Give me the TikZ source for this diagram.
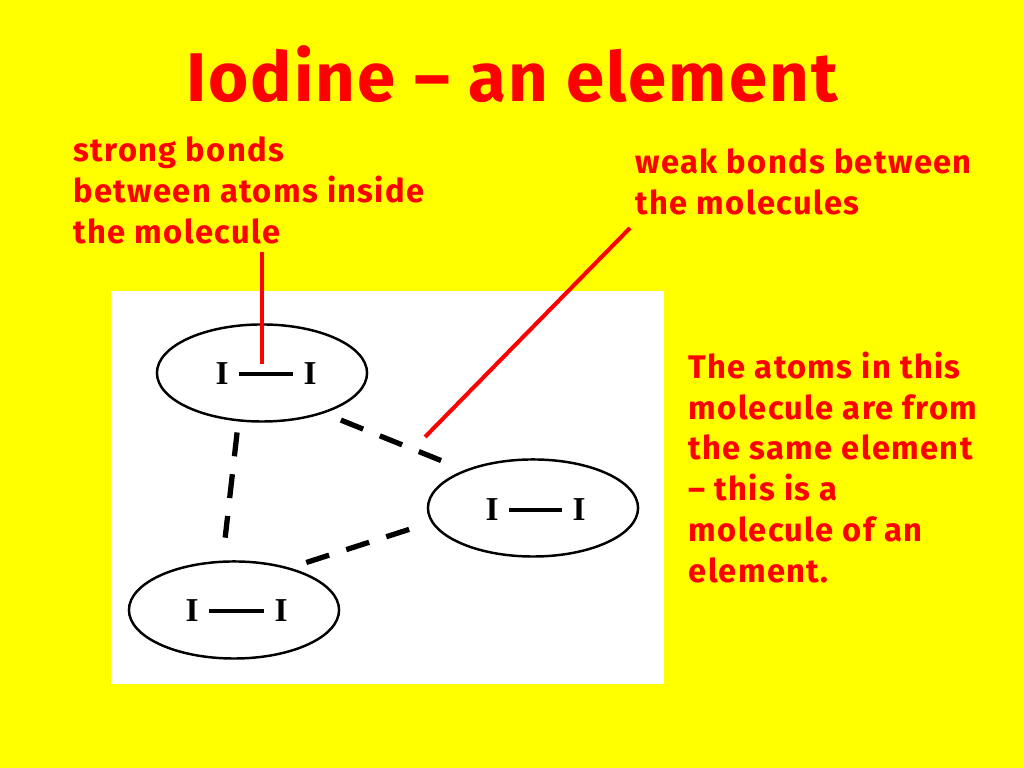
\documentclass[tikz,border=0pt]{standalone}
\usepackage{fontspec}
\setmainfont{Fira Sans}[BoldFont={Fira Sans Bold},LetterSpace=4]
\newfontfamily\titlefont{Fira Sans Bold}[LetterSpace=3]
\newfontfamily\atomfont{Liberation Serif Bold}
\definecolor{slidered}{RGB}{255,0,0}
\definecolor{slideyellow}{RGB}{255,255,0}
\usetikzlibrary{shapes.geometric}
\tikzset{
  molecule/.style={draw,ellipse,line width=0.7pt,minimum width=2.1cm,minimum height=0.97cm,inner sep=0pt},
  atom/.style={font=\atomfont\fontsize{9.5}{9.5}\selectfont,inner sep=0pt},
  bond/.style={line width=1.3pt,shorten <=0.1cm,shorten >=0.1cm},
  weakbond/.style={line width=1.5pt,dash pattern=on 0.24cm off 0.18cm},
  pointer/.style={slidered,line width=1.15pt},
  label/.style={slidered,font=\bfseries\fontsize{9.3}{11.6}\selectfont,align=left,anchor=north west,inner sep=0pt}
}
\begin{document}
\begin{tikzpicture}[x=0.01cm,y=-0.01cm]
\fill[slideyellow] (0,0) rectangle (1024,768);
\useasboundingbox (0,0) rectangle (1024,768);
\fill[white] (111,291) rectangle (664,684);

\node[slidered,font=\titlefont\fontsize{19.6}{19.6}\selectfont,inner sep=0pt] (title) at (512,74) {Iodine – an element};
\node[label] (strong) at (73,136) {strong bonds\\between atoms inside\\the molecule};
\node[label] (weak) at (635,148) {weak bonds between\\the molecules};
\node[label] (note) at (688,351) {The atoms in this\\molecule are from\\the same element\\– this is a\\molecule of an\\element.};

\node[molecule] (molA) at (262,373) {};
\node[molecule] (molB) at (533,508) {};
\node[molecule] (molC) at (234,610) {};

\node[atom] (iA1) at (222,374) {I};
\node[atom] (iA2) at (310,374) {I};
\node[atom] (iB1) at (492,510) {I};
\node[atom] (iB2) at (579,510) {I};
\node[atom] (iC1) at (192,611) {I};
\node[atom] (iC2) at (281,611) {I};

\draw[bond] (iA1) -- (iA2);
\draw[bond] (iB1) -- (iB2);
\draw[bond] (iC1) -- (iC2);

\draw[weakbond,shorten <=0.11cm,shorten >=0.23cm] (molA.-116) -- (molC.103);
\draw[weakbond,shorten <=0.18cm,shorten >=0.25cm] (molA.-33) -- (molB.151);
\draw[weakbond,shorten <=0.17cm,shorten >=0.21cm] (molC.37) -- (molB.188);

\coordinate (strongtop) at (262,252);
\coordinate (strongend) at (262,364);
\coordinate (weaktop) at (630,228);
\coordinate (weakend) at (425,437);
\draw[pointer] (strongtop) -- (strongend);
\draw[pointer] (weaktop) -- (weakend);
\end{tikzpicture}
\end{document}
